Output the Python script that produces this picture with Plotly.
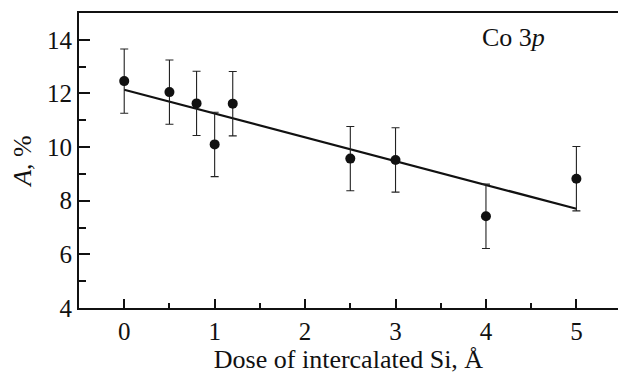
import plotly.graph_objects as go

dose = [0, 0.5, 0.8, 1.0, 1.2, 2.5, 3.0, 4.0, 5.0]
A_vals = [12.46, 12.05, 11.63, 10.1, 11.62, 9.57, 9.52, 7.42, 8.82]
A_err = [1.2, 1.2, 1.2, 1.2, 1.2, 1.2, 1.2, 1.2, 1.2]
fit_x = [0, 5]
fit_y = [12.14, 7.7]
x_ticks = [0, 1, 2, 3, 4, 5]
y_ticks = [4, 6, 8, 10, 12, 14]

FONT = "Liberation Serif"
TXT = "#111111"

fig = go.Figure()
fig.add_trace(go.Scatter(x=fit_x, y=fit_y, mode="lines",
                         line=dict(color=TXT, width=2.2), showlegend=False))
fig.add_trace(go.Scatter(x=dose, y=A_vals, mode="markers",
                         marker=dict(color=TXT, size=10),
                         error_y=dict(type="data", array=A_err, visible=True,
                                      color="#222222", thickness=1.1, width=4),
                         showlegend=False))

fig.add_annotation(x=4.3, y=14.1, xref="x", yref="y", text="Co 3<i>p</i>",
                   showarrow=False, font=dict(family=FONT, size=26, color=TXT))

fig.update_layout(
    width=618, height=374,
    margin=dict(l=79, r=0, t=13, b=66),
    paper_bgcolor="white", plot_bgcolor="white",
    font=dict(family=FONT, size=25, color=TXT),
)
fig.update_xaxes(range=[-0.5, 5.46], tickvals=x_ticks, ticks="inside", ticklen=9,
                 tickwidth=1.5, tickcolor=TXT,
                 minor=dict(ticks="inside", ticklen=5, dtick=0.5, tick0=0, tickwidth=1.5, tickcolor=TXT),
                 showline=True, linewidth=2, linecolor=TXT, mirror=True,
                 showgrid=False, zeroline=False,
                 title=dict(text="Dose of intercalated Si, Å", standoff=11,
                            font=dict(family=FONT, size=26, color=TXT)),
                 tickfont=dict(family=FONT, size=25, color=TXT))
fig.update_yaxes(range=[4, 15], tickvals=y_ticks, ticks="inside", ticklen=11,
                 tickwidth=1.5, tickcolor=TXT,
                 minor=dict(ticks="inside", ticklen=7, dtick=1, tick0=0, tickwidth=1.5, tickcolor=TXT),
                 showline=True, linewidth=2, linecolor=TXT,
                 showgrid=False, zeroline=False,
                 title=dict(text="<i>A</i>, %", standoff=8,
                            font=dict(family=FONT, size=26, color=TXT)),
                 tickfont=dict(family=FONT, size=25, color=TXT))

fig.write_html("out.html")
